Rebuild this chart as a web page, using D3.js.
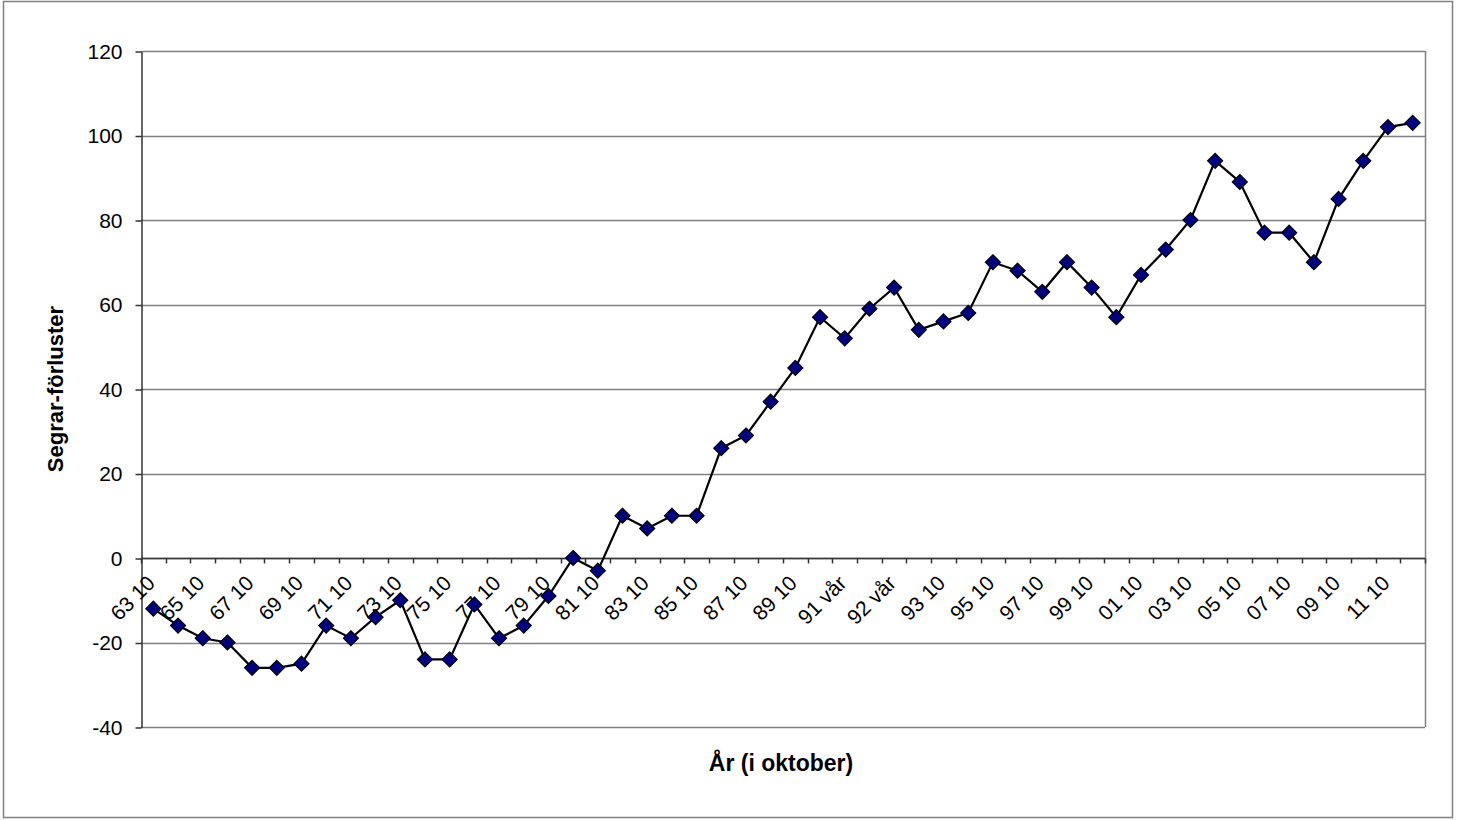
<html>
<script src="https://d3js.org/d3.v7.min.js"></script>
<body style="margin:0">
<div id="chart"></div>
<script>

var svg_width= 1457
var svg_height= 820

// categories (52 points, every second one labelled)
var categories= ["63 10","64 10","65 10","66 10","67 10","68 10","69 10","70 10","71 10","72 10",
"73 10","74 10","75 10","76 10","77 10","78 10","79 10","80 10","81 10","82 10",
"83 10","84 10","85 10","86 10","87 10","88 10","89 10","90 10","91 vår","91 10",
"92 vår","92 10","93 10","94 10","95 10","96 10","97 10","98 10","99 10","00 10",
"01 10","02 10","03 10","04 10","05 10","06 10","07 10","08 10","09 10","10 10",
"11 10","12 10"]

var values= [-12,-16,-19,-20,-26,-26,-25,-16,-19,-14,
-10,-24,-24,-11,-19,-16,-9,0,-3,10,
7,10,10,26,29,37,45,57,52,59,
64,54,56,58,70,68,63,70,64,57,
67,73,80,94,89,77,77,70,85,94,
102,103]

var y_ticks= [-40,-20,0,20,40,60,80,100,120]

var plot= {left: 141, top: 51, right: 1425, bottom: 727}

var svg= d3.select("#chart").append("svg")
.attr("width", svg_width)
.attr("height", svg_height)
.style("font-family", "Liberation Sans, Arial, sans-serif")

// outer frame
svg.append("rect")
.attr("x", 3.5).attr("y", 1.5)
.attr("width", 1449).attr("height", 816)
.style("fill", "white")
.style("stroke", "#808080")
.style("stroke-width", 1.5)

var x= d3.scaleBand()
.domain(categories)
.range([plot.left, plot.right])

var y= d3.scaleLinear()
.domain([-40, 120])
.range([plot.bottom, plot.top])

// gridlines
svg.append("g")
.selectAll("line")
.data(y_ticks)
.enter().append("line")
.attr("x1", plot.left)
.attr("x2", plot.right)
.attr("y1", function(d) {return Math.round(y(d)) + 0.5})
.attr("y2", function(d) {return Math.round(y(d)) + 0.5})
.style("stroke", "#808080")
.style("stroke-width", 1.5)

// right border of plot area
svg.append("line")
.attr("x1", plot.right + 0.5).attr("x2", plot.right + 0.5)
.attr("y1", plot.top).attr("y2", plot.bottom)
.style("stroke", "#808080")
.style("stroke-width", 1.5)

// y axis
var y_axis= svg.append("g")
.attr("transform", "translate(" + (plot.left + 0.5) + ",0.5)")
.call(d3.axisLeft(y).tickValues(y_ticks).tickSize(6).tickSizeOuter(0).tickPadding(13)
  .tickFormat(function(d) {return String(d)}))

y_axis.select(".domain").style("stroke", "#333").style("stroke-width", 1.5)
y_axis.selectAll(".tick line").style("stroke", "#333").style("stroke-width", 1.5)
y_axis.selectAll(".tick text")
.style("font-size", "21px")
.style("font-family", "Liberation Sans, Arial, sans-serif")
.style("fill", "black")

// x axis at zero
var zero_y= Math.round(y(0))
var x_axis= svg.append("g")
.attr("transform", "translate(0," + (zero_y + 0.5) + ")")

x_axis.append("line")
.attr("x1", plot.left).attr("x2", plot.right)
.style("stroke", "#333")
.style("stroke-width", 1.5)

var boundaries= categories.map(function(c) {return x(c)}).concat([plot.right])
x_axis.selectAll(".xtick")
.data(boundaries)
.enter().append("line")
.attr("class", "xtick")
.attr("x1", function(d) {return Math.round(d) + 0.5})
.attr("x2", function(d) {return Math.round(d) + 0.5})
.attr("y1", 0).attr("y2", 5)
.style("stroke", "#333")
.style("stroke-width", 1.5)

x_axis.selectAll(".xlabel")
.data(categories.filter(function(c, i) {return i % 2 == 0}))
.enter().append("text")
.attr("class", "xlabel")
.attr("text-anchor", "end")
.attr("font-size", 21)
.attr("transform", function(d) {
  var cx= x(d) + x.bandwidth() / 2 + 3
  return "translate(" + cx + ",26) rotate(-45)"
})
.text(function(d) {return d})

// line
var line= d3.line()
.x(function(d, i) {return x(categories[i]) + x.bandwidth() / 2})
.y(function(d) {return y(d)})

svg.append("path")
.datum(values)
.attr("d", line)
.style("fill", "none")
.style("stroke", "black")
.style("stroke-width", 2.2)

// diamond markers
svg.append("g")
.selectAll("path")
.data(values)
.enter().append("path")
.attr("d", "M0,-7.5 L7.5,0 L0,7.5 L-7.5,0 Z")
.attr("transform", function(d, i) {
  return "translate(" + (x(categories[i]) + x.bandwidth() / 2) + "," + y(d) + ")"
})
.style("fill", "#000080")
.style("stroke", "black")
.style("stroke-width", 1.2)

// axis titles
svg.append("text")
.text("År (i oktober)")
.attr("x", 781)
.attr("y", 771)
.attr("text-anchor", "middle")
.attr("font-size", 23)
.attr("font-weight", "bold")

svg.append("text")
.text("Segrar-förluster")
.attr("text-anchor", "middle")
.attr("font-size", 22)
.attr("font-weight", "bold")
.attr("transform", "translate(63," + ((plot.top + plot.bottom) / 2) + ") rotate(-90)")

</script>
</body>
</html>
